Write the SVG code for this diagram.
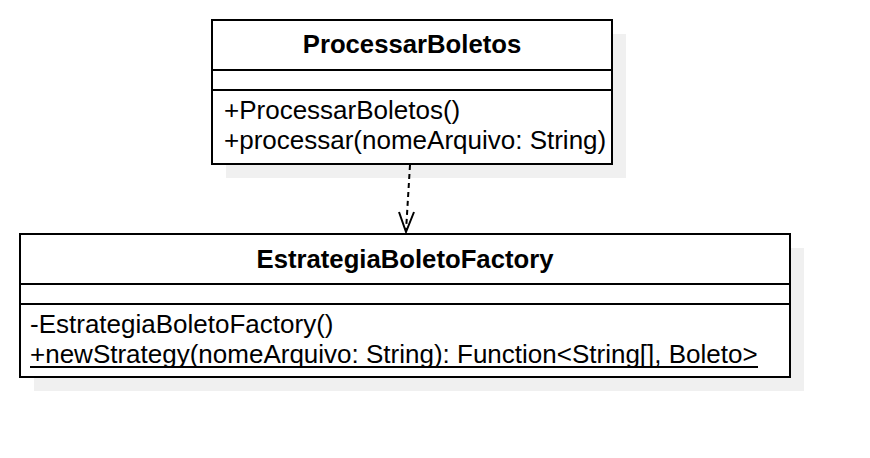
<svg xmlns="http://www.w3.org/2000/svg" width="870" height="458" viewBox="0 0 870 458">
<defs>
<style>
.shadow{fill:#f0f0f0;stroke:none}
.box{fill:#ffffff;stroke:#000000;stroke-width:2}
.div{stroke:#000000;stroke-width:2;fill:none}
.title{font-family:"Liberation Sans",Arial,sans-serif;font-size:25.7px;font-weight:bold;fill:#000000}
.member{font-family:"Liberation Sans",Arial,sans-serif;font-size:26px;fill:#000000}
.conn{stroke:#000000;stroke-width:2;fill:none}
</style>
</defs>
<rect width="870" height="458" fill="#ffffff"/>
<g id="ProcessarBoletos">
<rect class="shadow" x="226" y="34" width="400" height="144"/>
<rect class="box" x="212" y="20" width="400" height="144"/>
<line class="div" x1="212" y1="70" x2="612" y2="70"/>
<line class="div" x1="212" y1="90" x2="612" y2="90"/>
<text class="title" x="412" y="53" text-anchor="middle">ProcessarBoletos</text>
<text class="member" x="224" y="119">+ProcessarBoletos()</text>
<text class="member" x="224" y="149">+processar(nomeArquivo: String)</text>
</g>
<g id="EstrategiaBoletoFactory">
<rect class="shadow" x="34" y="248" width="770" height="143"/>
<rect class="box" x="20" y="234" width="770" height="143"/>
<line class="div" x1="20" y1="284" x2="790" y2="284"/>
<line class="div" x1="20" y1="304" x2="790" y2="304"/>
<text class="title" x="405" y="268" text-anchor="middle">EstrategiaBoletoFactory</text>
<text class="member" x="30" y="333">-EstrategiaBoletoFactory()</text>
<text class="member" x="30" y="363">+newStrategy(nomeArquivo: String): Function&lt;String[], Boleto&gt;</text>
<line class="div" x1="30" y1="367" x2="758" y2="367"/>
</g>
<g id="connectors">
<path class="conn" d="M410,165 L406,231" stroke-dasharray="5 4"/>
<path class="conn" d="M399,212 L406,232 L414,212"/>
</g>
</svg>
